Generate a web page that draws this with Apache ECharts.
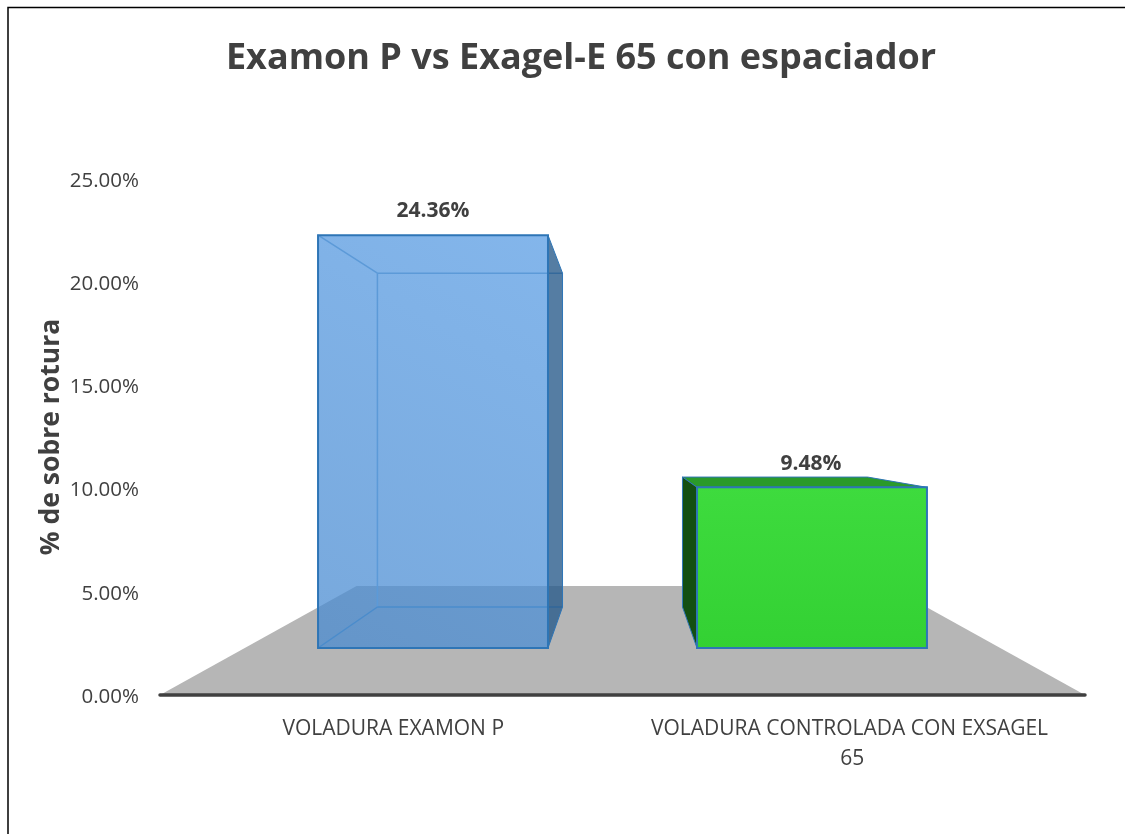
<!DOCTYPE html>
<html><head><meta charset="utf-8">
<style>html,body{margin:0;padding:0;background:#fff}#c{width:1125px;height:834px}</style>
<script src="https://cdn.jsdelivr.net/npm/echarts@6/dist/echarts.min.js"></script>
</head><body><div id="c"></div>
<script>
var chartTitle = 'Examon P vs Exagel-E 65 con espaciador';
var yAxisName = '% de sobre rotura';
var categories = ['VOLADURA EXAMON P', 'VOLADURA CONTROLADA CON EXSAGEL 65'];
var values = [24.36, 9.48];
var yMax = 25, yStep = 5;

var FONT = '"Open Sans", sans-serif', INK = '#404040', EDGE = '#2e75b6';

// pseudo-3D projection of a box drawn through the axis scales
function boxProjector(api, i, v) {
  var base = api.coord([i, 0]);
  var top = api.coord([i, v]);
  var full = base[1] - top[1];
  var band = api.size([1, 0])[0];
  var g0 = api.coord([0, 0])[0], g1 = api.coord([1, 0])[0];
  var vx = (g0 + g1) / 2;
  var lean = (i === 0 ? 1 : -1) * band * 0.0903;
  var half = band * 0.2486;
  var cx = base[0] + lean;
  return {
    xl: cx - half, xr: cx + half,
    bxl: vx + (cx - half - vx) * 0.805, bxr: vx + (cx + half - vx) * 0.805,
    fb: base[1] - 47, ft: base[1] - 47 - full * 0.821,
    bb: base[1] - 88, bt: base[1] - 88 - full * 0.664,
    cx: cx
  };
}
function poly(pts, style, z) {
  return {type: 'polygon', z2: z || 0, shape: {points: pts}, style: style};
}
function seg(x1, y1, x2, y2, color, w) {
  return {type: 'line', shape: {x1: x1, y1: y1, x2: x2, y2: y2}, style: {stroke: color, lineWidth: w, fill: null}};
}
function renderFloor(params, api) {
  var l = api.coord([0, 0]), r = api.coord([1, 0]);
  var band = api.size([1, 0])[0];
  var left = l[0] - band / 2, right = r[0] + band / 2;
  var vx = (left + right) / 2;
  var y0 = l[1], y1 = l[1] - 109;
  return poly([[left, y0], [right, y0], [vx + (right - vx) * 0.575, y1], [vx + (left - vx) * 0.575, y1]], {fill: '#b6b6b6'});
}
function renderBlue(b, v) {
  var line = '#5c9ad8', low = '#4a8ccc';
  return [
    poly([[b.xl, b.ft], [b.xr, b.ft], [b.xr, b.fb], [b.xl, b.fb]], {
      fill: new echarts.graphic.LinearGradient(0, 1, 1, 0, [{offset: 0, color: 'rgba(72,138,208,0.74)'}, {offset: 1, color: 'rgba(88,156,228,0.74)'}])
    }),
    seg(b.bxl, b.bt, b.bxl, b.bb, line, 1.5),
    seg(b.bxl, b.bb, b.bxr, b.bb, low, 1.5),
    seg(b.bxl, b.bt, b.bxr, b.bt, line, 1.5),
    seg(b.xl, b.ft, b.bxl, b.bt, line, 1.5),
    seg(b.xl, b.fb, b.bxl, b.bb, low, 1.5),
    poly([[b.xr, b.ft], [b.bxr, b.bt], [b.bxr, b.bb], [b.xr, b.fb]], {fill: 'rgba(42,92,140,0.8)', stroke: EDGE, lineWidth: 1}),
    poly([[b.xl, b.ft], [b.xr, b.ft], [b.xr, b.fb], [b.xl, b.fb]], {fill: null, stroke: EDGE, lineWidth: 2})
  ];
}
function renderGreen(b, v) {
  return [
    poly([[b.bxl, b.bt], [b.bxr, b.bt], [b.xr, b.ft], [b.xl, b.ft]], {fill: '#2a9a2a', stroke: EDGE, lineWidth: 1}),
    poly([[b.bxl, b.bt], [b.xl, b.ft], [b.xl, b.fb], [b.bxl, b.bb]], {fill: '#134f12', stroke: EDGE, lineWidth: 1}),
    poly([[b.xl, b.ft], [b.xr, b.ft], [b.xr, b.fb], [b.xl, b.fb]], {
      fill: new echarts.graphic.LinearGradient(0, 0, 0, 1, [{offset: 0, color: '#3edb3e'}, {offset: 1, color: '#33d133'}]),
      stroke: EDGE, lineWidth: 2
    })
  ];
}
function renderBar(params, api) {
  var i = api.value(0), v = api.value(1);
  var b = boxProjector(api, i, v);
  var kids = i === 0 ? renderBlue(b, v) : renderGreen(b, v);
  var labelY = i === 0 ? b.ft - 24 : b.bt - 13;
  kids.push({type: 'text', style: {
    text: v.toFixed(2) + '%', x: b.cx - (i === 0 ? 0 : 1), y: labelY, align: 'center', verticalAlign: 'middle',
    font: 'bold 21px ' + FONT, fill: INK
  }});
  return {type: 'group', children: kids};
}

var chart = echarts.init(document.getElementById('c'), null, {renderer: 'canvas'});
chart.setOption({
  animation: false,
  backgroundColor: '#fff',
  title: {text: chartTitle, left: 576, top: 36, textAlign: 'center',
    textStyle: {fontFamily: FONT, fontWeight: 'bold', fontSize: 36, color: INK}},
  grid: {left: 160, right: 40, top: 179, bottom: 139, containLabel: false},
  xAxis: {type: 'category', z: 5,
    data: [
      {value: categories[0], textStyle: {padding: [0, 0, 0, 4]}},
      {value: categories[1], textStyle: {padding: [0, 3, 0, 0]}}
    ],
    axisLine: {lineStyle: {color: INK, width: 3.5, cap: 'round'}},
    axisTick: {show: false},
    axisLabel: {margin: 19, width: 410, overflow: 'break', lineHeight: 30, fontFamily: FONT, fontSize: 21, color: INK, interval: 0}},
  yAxis: {type: 'value', min: 0, max: yMax, interval: yStep,
    name: yAxisName, nameLocation: 'middle', nameGap: 95, nameRotate: 90, nameMoveOverlap: false,
    nameTextStyle: {fontFamily: FONT, fontWeight: 'bold', fontSize: 26.5, color: INK},
    axisLine: {show: false}, axisTick: {show: false}, splitLine: {show: false},
    axisLabel: {margin: 21, verticalAlign: 'top', lineHeight: 4, fontFamily: FONT, fontSize: 20.5, color: INK, formatter: function (v) { return v.toFixed(2) + '%'; }}},
  graphic: [{type: 'polyline', silent: true, shape: {points: [[8, 834], [8, 7.5], [1125, 7.5]]}, style: {stroke: '#000', lineWidth: 1.5, fill: null}}],
  series: [
    {type: 'custom', z: 1, silent: true, coordinateSystem: 'cartesian2d', data: [[0, 0]], renderItem: renderFloor, encode: {x: 0, y: 1}},
    {type: 'custom', z: 2, silent: true, coordinateSystem: 'cartesian2d',
      data: values.map(function (v, i) { return [i, v]; }), renderItem: renderBar, encode: {x: 0, y: 1}}
  ]
});
</script></body></html>
